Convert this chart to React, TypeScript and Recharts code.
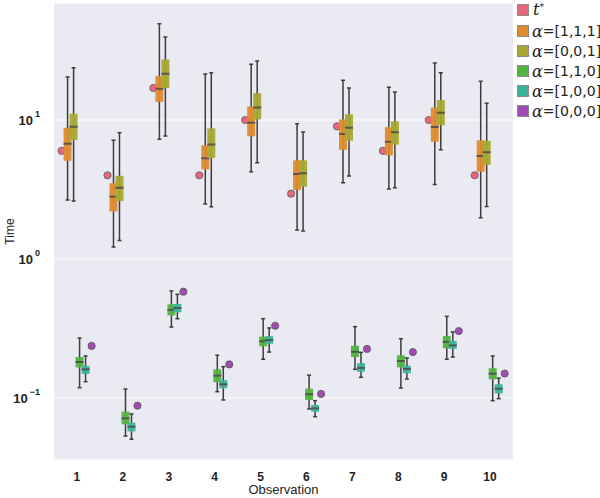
import React from 'react';
import { ComposedChart, Bar, XAxis, YAxis, CartesianGrid, Label } from 'recharts';

// ---------- data ----------
const observations = ['1', '2', '3', '4', '5', '6', '7', '8', '9', '10'];

// t* reference points
const tStar = [6.0, 4.0, 17.0, 4.0, 10.0, 2.95, 9.0, 6.0, 10.0, 4.0];

// box stats per observation: [whiskerLow, q1, median, q3, whiskerHigh]
const alpha111 = [
  [2.66, 5.09, 6.75, 8.8, 20.4],
  [1.22, 2.2, 2.81, 3.51, 7.15],
  [7.26, 13.5, 16.8, 20.7, 49.3],
  [2.49, 4.42, 5.3, 6.57, 21.4],
  [4.25, 7.64, 9.57, 12.5, 25.2],
  [1.62, 3.13, 4.09, 5.13, 9.4],
  [3.54, 6.11, 7.93, 10.1, 19.3],
  [3.19, 5.57, 6.98, 8.9, 17.2],
  [3.44, 6.98, 8.9, 12.3, 25.7],
  [1.98, 4.25, 5.51, 7.15, 19.0],
];
const alpha001 = [
  [2.61, 7.2, 8.95, 11.1, 23.8],
  [1.36, 2.61, 3.26, 3.97, 8.1],
  [7.67, 17.0, 21.5, 27.3, 39.5],
  [2.38, 5.33, 6.68, 8.71, 21.9],
  [4.93, 10.1, 12.3, 15.6, 26.6],
  [1.59, 3.31, 4.14, 5.13, 8.2],
  [3.95, 7.1, 8.81, 11.0, 17.0],
  [3.25, 6.65, 8.15, 9.78, 15.9],
  [6.11, 9.16, 11.3, 13.9, 21.9],
  [2.39, 4.76, 5.86, 7.06, 13.2],
];
const alpha110 = [
  [0.1186, 0.166, 0.1815, 0.197, 0.27],
  [0.0533, 0.0646, 0.0714, 0.0798, 0.116],
  [0.324, 0.393, 0.43, 0.472, 0.589],
  [0.111, 0.13, 0.1448, 0.1607, 0.203],
  [0.19, 0.2355, 0.256, 0.276, 0.372],
  [0.0834, 0.0968, 0.1064, 0.1167, 0.146],
  [0.1607, 0.197, 0.215, 0.2375, 0.326],
  [0.118, 0.166, 0.1845, 0.203, 0.267],
  [0.19, 0.228, 0.2535, 0.279, 0.387],
  [0.0957, 0.1365, 0.1496, 0.1636, 0.2005],
];
const alpha100 = [
  [0.131, 0.149, 0.1607, 0.1706, 0.2005],
  [0.0505, 0.0575, 0.0621, 0.0664, 0.0767],
  [0.372, 0.414, 0.444, 0.475, 0.557],
  [0.0968, 0.1175, 0.1255, 0.1345, 0.168],
  [0.214, 0.246, 0.261, 0.279, 0.319],
  [0.0734, 0.0798, 0.0843, 0.0891, 0.0957],
  [0.141, 0.1546, 0.1644, 0.178, 0.213],
  [0.137, 0.1507, 0.162, 0.1706, 0.194],
  [0.197, 0.2255, 0.239, 0.257, 0.2985],
  [0.0989, 0.108, 0.1167, 0.1255, 0.139],
];
// alpha = [0,0,0] points
const alpha000 = [0.237, 0.088, 0.582, 0.1745, 0.331, 0.107, 0.2255, 0.214, 0.303, 0.15];

const yTicks = [0.1, 1, 10];
const yTickExponents = ['\u22121', '0', '1'];
const yDomain = [0.0358, 69.5];

const legendLabels = ['[1,1,1]', '[0,0,1]', '[1,1,0]', '[1,0,0]', '[0,0,0]'];

// ---------- styles ----------
const COLORS = {
  tStar: '#E7677E',
  a111: '#DE8B2E',
  a001: '#A8A833',
  a110: '#52B440',
  a100: '#3AB49B',
  a000: '#A34BB5',
};
const legendColors = [COLORS.a111, COLORS.a001, COLORS.a110, COLORS.a100, COLORS.a000];

const data = observations.map((obs, i) => ({
  obs,
  tStar: tStar[i],
  a111: alpha111[i],
  a001: alpha001[i],
  a110: alpha110[i],
  a100: alpha100[i],
  a000: alpha000[i],
}));

const WHISKER = '#3c3c3c';
const BOX_W = 8;
const CAP_W = 4;

const makeBoxShape = (key: string, color: string) => (props: any) => {
  const { x, y, width, height, payload } = props;
  const s: number[] = payload[key];
  if (!s) return null;
  const top = Math.min(y, y + height);
  const bottom = Math.max(y, y + height);
  const lhi = Math.log10(s[4]);
  const llo = Math.log10(s[0]);
  const py = (v: number) => top + ((bottom - top) * (lhi - Math.log10(v))) / (lhi - llo);
  const cx = x + width / 2;
  const yq1 = py(s[1]);
  const ymed = py(s[2]);
  const yq3 = py(s[3]);
  return (
    <g>
      <line x1={cx} x2={cx} y1={top} y2={bottom} stroke={WHISKER} strokeWidth={1.5} />
      <line x1={cx - CAP_W / 2} x2={cx + CAP_W / 2} y1={top} y2={top} stroke={WHISKER} strokeWidth={1.5} />
      <line x1={cx - CAP_W / 2} x2={cx + CAP_W / 2} y1={bottom} y2={bottom} stroke={WHISKER} strokeWidth={1.5} />
      <rect x={cx - BOX_W / 2} y={yq3} width={BOX_W} height={yq1 - yq3} fill={color} fillOpacity={0.95} />
      <line x1={cx - BOX_W / 2} x2={cx + BOX_W / 2} y1={ymed} y2={ymed} stroke="#4a4a4a" strokeWidth={2} strokeOpacity={0.85} />
    </g>
  );
};

const makeDotShape = (color: string, edge: string) => (props: any) => {
  const { x, y, width, height } = props;
  const cx = x + width / 2;
  const cy = y + height / 2;
  return <circle cx={cx} cy={cy} r={3.6} fill={color} stroke={edge} strokeWidth={0.8} />;
};

const dotRange = (v: number) => [v / 1.0005, v * 1.0005];

const YTick = (props: any) => {
  const { x, y, payload } = props;
  const idx = yTicks.indexOf(payload.value);
  const exp = idx >= 0 ? yTickExponents[idx] : '';
  return (
    <text x={x - 6} y={y} textAnchor="end" fill="#222" fontSize={13} fontWeight="bold" dy="0.4em">
      <tspan>10</tspan>
      <tspan dx={2} dy={-8} fontSize={9}>
        {exp}
      </tspan>
    </text>
  );
};

const YLabel = (props: any) => {
  const vb = props.viewBox || {};
  const cy = (vb.y || 0) + (vb.height || 0) / 2;
  return (
    <text x={14} y={cy} transform={`rotate(-90 14 ${cy})`} textAnchor="middle" fontSize={12} fill="#222">
      Time
    </text>
  );
};

const Legend = () => (
  <div style={{ position: 'absolute', left: 517, top: 0, fontFamily: '"DejaVu Sans", sans-serif', color: '#222' }}>
    <div style={{ position: 'absolute', top: 3, left: 0, display: 'flex', alignItems: 'center', whiteSpace: 'nowrap' }}>
      <span style={{ width: 10, height: 10, background: COLORS.tStar, border: '1px solid #8a8a8a', display: 'inline-block' }} />
      <span style={{ marginLeft: 4, fontSize: 16, fontStyle: 'italic', fontFamily: '"DejaVu Serif", serif', lineHeight: '14px' }}>
        t<sup style={{ fontSize: 9, verticalAlign: 'top', fontStyle: 'normal', position: 'relative', top: -3 }}>*</sup>
      </span>
    </div>
    {legendLabels.map((lab, i) => (
      <div
        key={lab + i}
        style={{ position: 'absolute', top: 24 + i * 20, left: 0, display: 'flex', alignItems: 'center', whiteSpace: 'nowrap', height: 14 }}
      >
        <span style={{ width: 10, height: 10, background: legendColors[i], border: '1px solid #8a8a8a', display: 'inline-block' }} />
        <span style={{ marginLeft: 3, fontSize: 16, fontStyle: 'italic', fontFamily: '"DejaVu Serif", serif' }}>α</span>
        <span style={{ fontSize: 14 }}>={lab}</span>
      </div>
    ))}
  </div>
);

export default function App() {
  return (
    <div style={{ position: 'absolute', left: 0, top: 0, width: 600, height: 498, background: '#fff', fontFamily: '"Liberation Sans", Arial, sans-serif', overflow: 'hidden' }}>
      <ComposedChart
        width={600}
        height={498}
        data={data}
        margin={{ top: 3, right: 87, bottom: 0, left: 0 }}
        barCategoryGap="10%"
        barGap={0}
      >
        <CartesianGrid vertical={false} stroke="#ffffff" strokeWidth={1} fill="#EAEAF2" fillOpacity={1} />
        <XAxis
          dataKey="obs"
          type="category"
          height={38}
          axisLine={false}
          tickLine={false}
          tickMargin={6}
          tick={{ fill: '#222', fontSize: 12, fontWeight: 'bold' }}
          interval={0}
        >
          <Label value="Observation" position="insideBottom" offset={4} fill="#222" fontSize={13} />
        </XAxis>
        <YAxis
          type="number"
          scale="log"
          domain={yDomain}
          allowDataOverflow
          ticks={yTicks}
          width={54}
          axisLine={false}
          tickLine={false}
          tick={<YTick />}
          label={<YLabel />}
        />
        <Bar dataKey={(d: any) => dotRange(d.tStar)} shape={makeDotShape(COLORS.tStar, '#555')} isAnimationActive={false} />
        <Bar dataKey={(d: any) => [d.a111[0], d.a111[4]]} shape={makeBoxShape('a111', COLORS.a111)} isAnimationActive={false} />
        <Bar dataKey={(d: any) => [d.a001[0], d.a001[4]]} shape={makeBoxShape('a001', COLORS.a001)} isAnimationActive={false} />
        <Bar dataKey={(d: any) => [d.a110[0], d.a110[4]]} shape={makeBoxShape('a110', COLORS.a110)} isAnimationActive={false} />
        <Bar dataKey={(d: any) => [d.a100[0], d.a100[4]]} shape={makeBoxShape('a100', COLORS.a100)} isAnimationActive={false} />
        <Bar dataKey={(d: any) => dotRange(d.a000)} shape={makeDotShape(COLORS.a000, '#555')} isAnimationActive={false} />
      </ComposedChart>
      <Legend />
    </div>
  );
}
